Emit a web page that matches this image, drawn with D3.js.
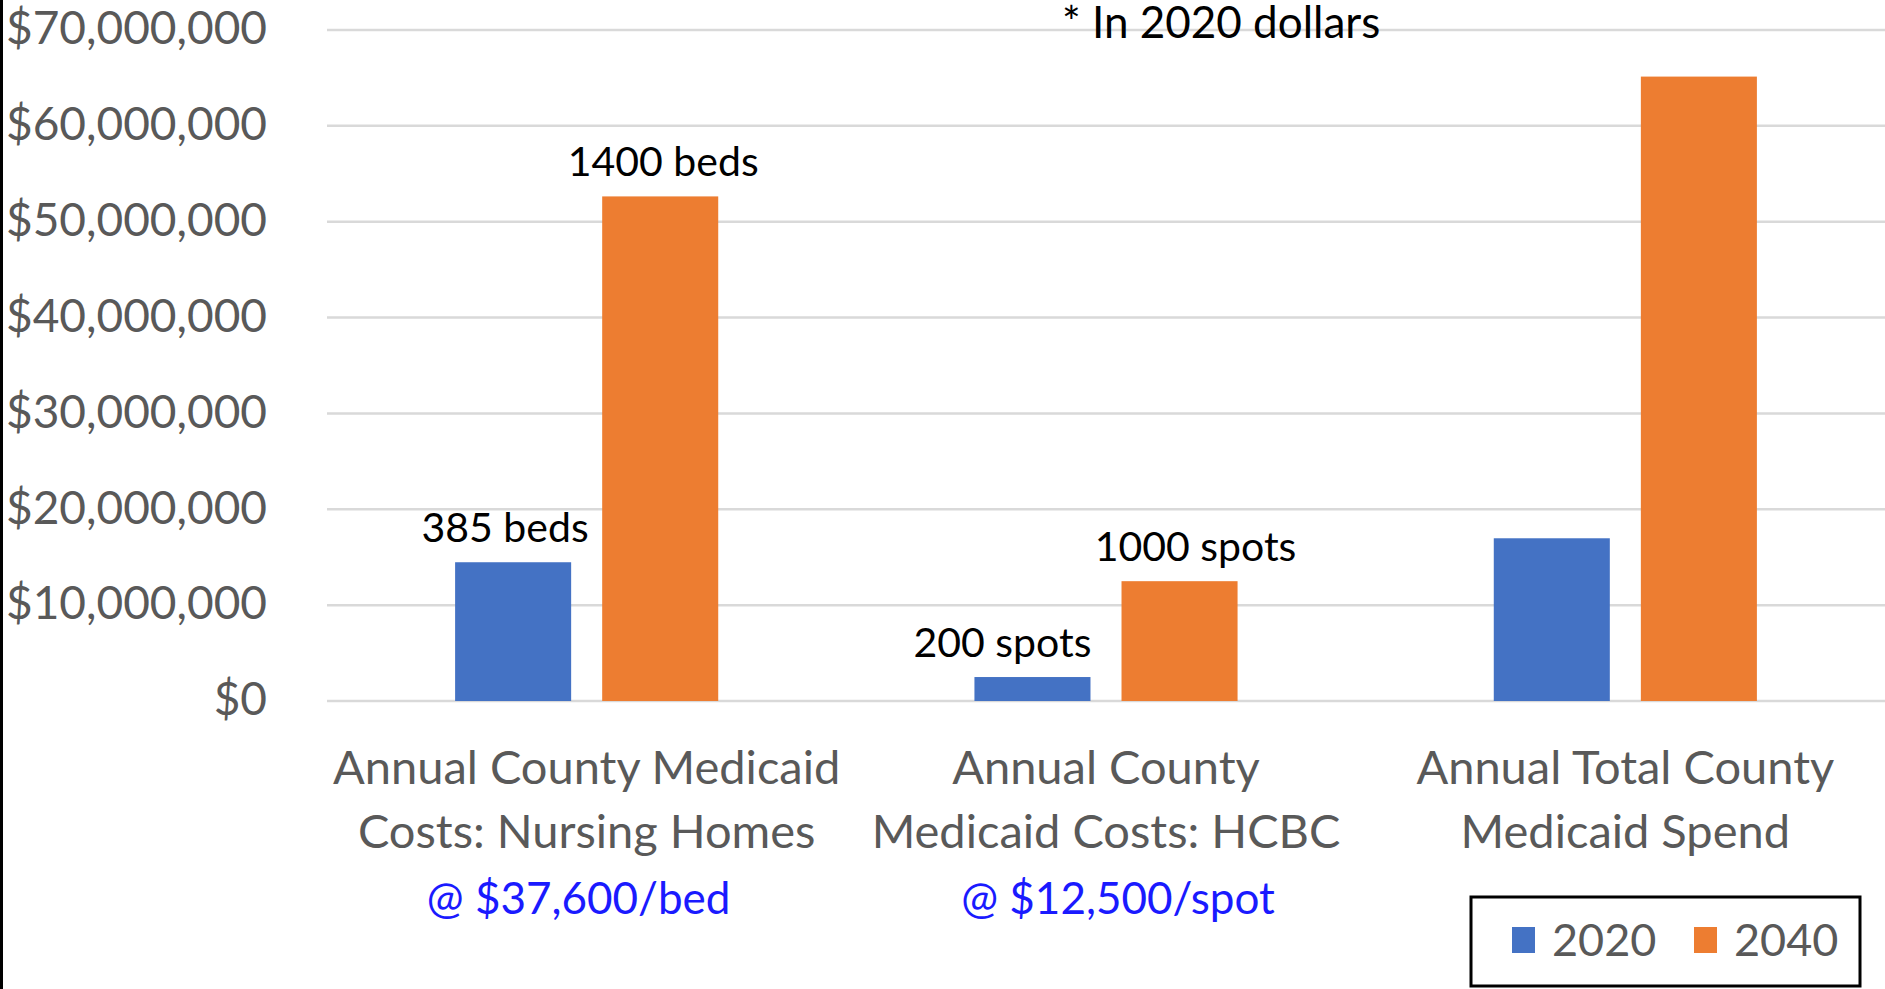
<!DOCTYPE html>
<html>
<head>
<meta charset="utf-8">
<script src="https://cdn.jsdelivr.net/npm/d3@7"></script>
<style>
  body { margin: 0; background: #fff; }
  svg { display: block; font-family: Lato, "Open Sans", sans-serif; }
</style>
</head>
<body>
<div class="chart"></div>
<script>
const width = 1885,
    height = 989,
    margin = { top: 30, bottom: 288, left: 327, right: 0 };

// data
const categories = ["Nursing Homes", "HCBC", "Total"];
const categoryLines = [
    ["Annual County Medicaid", "Costs: Nursing Homes"],
    ["Annual County", "Medicaid Costs: HCBC"],
    ["Annual Total County", "Medicaid Spend"]
];
const rateLines = ["@ $37,600/bed", "@ $12,500/spot", ""];
const series = ["2020", "2040"];
const values2020 = [14476000, 2500000, 16976000];
const values2040 = [52640000, 12500000, 65140000];
const labels2020 = ["385 beds", "200 spots", ""];
const labels2040 = ["1400 beds", "1000 spots", ""];
const yTicks = [0, 10000000, 20000000, 30000000, 40000000, 50000000, 60000000, 70000000];
const note = "* In 2020 dollars";

const colors = { "2020": "#4472C4", "2040": "#ED7D31" };
const labelNudge = { "2020": [-8, -30, 0], "2040": [3, 16, 0] };
const rateNudge = [-8, 12, 0];

const rows = [];
categories.forEach((c, i) => {
    rows.push({ cat: c, i: i, series: "2020", value: values2020[i], label: labels2020[i] });
    rows.push({ cat: c, i: i, series: "2040", value: values2040[i], label: labels2040[i] });
});

const svg = d3.select(".chart")
    .append("svg")
    .attr("width", width)
    .attr("height", height);

const x = d3.scaleBand()
    .domain(categories)
    .range([margin.left, width - margin.right]);

const xSub = d3.scaleBand()
    .domain(series)
    .range([0, x.bandwidth()])
    .paddingInner(0.211)
    .paddingOuter(0.871);

const y = d3.scaleLinear()
    .domain([0, 70000000])
    .range([height - margin.bottom, margin.top]);

// gridlines
svg.append("g")
    .selectAll("line")
    .data(yTicks)
    .join("line")
    .attr("x1", margin.left)
    .attr("x2", width - margin.right)
    .attr("y1", d => y(d))
    .attr("y2", d => y(d))
    .attr("stroke", "#d9d9d9")
    .attr("stroke-width", 2.5);

// y axis labels
const yAxis = d3.axisLeft(y)
    .tickValues(yTicks)
    .tickFormat(d => "$" + d3.format(",")(d))
    .tickSize(0)
    .tickPadding(60);

svg.append("g")
    .attr("transform", `translate(${margin.left}, 0)`)
    .call(yAxis)
    .call(g => g.select(".domain").remove())
    .selectAll("text")
    .attr("fill", "#595959")
    .attr("font-size", 46)
    .attr("font-family", "Lato, sans-serif")
    .attr("dy", "0.3em");

// bars
svg.append("g")
    .selectAll("rect")
    .data(rows)
    .join("rect")
    .attr("x", d => x(d.cat) + xSub(d.series))
    .attr("width", xSub.bandwidth())
    .attr("y", d => y(d.value))
    .attr("height", d => y(0) - y(d.value))
    .attr("fill", d => colors[d.series]);

// bar labels
svg.append("g")
    .selectAll("text")
    .data(rows.filter(d => d.label))
    .join("text")
    .attr("x", d => x(d.cat) + xSub(d.series) + xSub.bandwidth() / 2 + labelNudge[d.series][d.i])
    .attr("y", d => y(d.value) - 20)
    .attr("text-anchor", "middle")
    .attr("font-size", 41)
    .attr("fill", "#000")
    .text(d => d.label);

// category labels
const catG = svg.append("g")
    .selectAll("g")
    .data(categories)
    .join("g")
    .attr("transform", (d, i) => `translate(${x(d) + x.bandwidth() / 2}, 0)`);

catG.selectAll("text.cat")
    .data((d, i) => categoryLines[i])
    .join("text")
    .attr("class", "cat")
    .attr("y", (d, j) => 784 + j * 64)
    .attr("text-anchor", "middle")
    .attr("font-size", 47)
    .attr("fill", "#595959")
    .text(d => d);

catG.append("text")
    .attr("x", (d, i) => rateNudge[i])
    .attr("y", 914)
    .attr("text-anchor", "middle")
    .attr("font-size", 44)
    .attr("fill", "#1a1aff")
    .text((d, i) => rateLines[i]);

// note
svg.append("text")
    .attr("x", 1062)
    .attr("y", 38)
    .attr("font-size", 44)
    .attr("fill", "#000")
    .text(note);

// legend
const legend = svg.append("g");
legend.append("rect")
    .attr("x", 1471)
    .attr("y", 897)
    .attr("width", 389)
    .attr("height", 89)
    .attr("fill", "#fff")
    .attr("stroke", "#000")
    .attr("stroke-width", 3);

const legendX = [1512, 1694];
const items = legend.selectAll("g.item")
    .data(series)
    .join("g")
    .attr("class", "item")
    .attr("transform", (d, i) => `translate(${legendX[i]}, 0)`);

items.append("rect")
    .attr("y", 927)
    .attr("width", 23)
    .attr("height", 26)
    .attr("fill", d => colors[d]);

items.append("text")
    .attr("x", 40)
    .attr("y", 956)
    .attr("font-size", 45)
    .attr("fill", "#595959")
    .text(d => d);

// left frame edge
svg.append("rect")
    .attr("x", 0)
    .attr("y", 0)
    .attr("width", 3)
    .attr("height", height)
    .attr("fill", "#000");
</script>
</body>
</html>
